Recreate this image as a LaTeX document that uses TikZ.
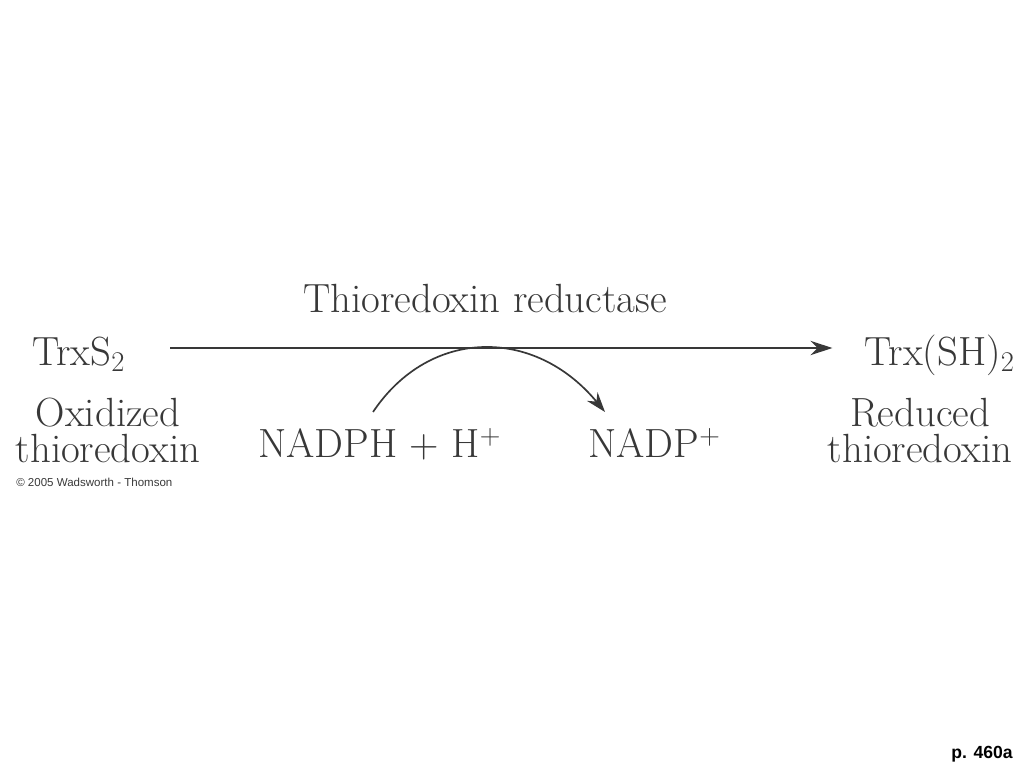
\documentclass[tikz,border=0pt]{standalone}
\usepackage{fontspec}
\usepackage{tikz}
\usetikzlibrary{arrows.meta}
\newfontfamily\credfont{Liberation Sans}
\definecolor{ink}{HTML}{383838}
\tikzset{lbl/.style={font=\fontsize{29}{25}\selectfont, text=ink, inner sep=0pt},
 credit/.style={font=\credfont\fontsize{8.2}{10}\selectfont, text=ink, inner sep=0pt},
 pagelbl/.style={font=\credfont\bfseries\fontsize{12.5}{14}\selectfont, inner sep=0pt},
 rxn/.style={draw=ink, line width=1.3pt, -{Stealth[length=0.55cm, width=0.36cm]}},
 cofactor/.style={draw=ink, line width=1.2pt, -{Stealth[length=0.5cm, width=0.34cm]}},
 }

\begin{document}
\begin{tikzpicture}[x=0.025cm, y=-0.025cm]
        \useasboundingbox (0,0) rectangle (1024,768);
        \node[lbl, anchor=base] (enzyme) at (485,312) {Thioredoxin reductase};
        \node[lbl, anchor=base west] (trxs) at (32,365) {TrxS\textsubscript{2}};
        \node[lbl, anchor=base east] (trxsh) at (1015,365) {Trx(SH)\textsubscript{2}};
        \node[lbl, anchor=base, align=center] (oxid) at (108,462) {Oxidized\\thioredoxin};
        \node[lbl, anchor=base, align=center] (red) at (920,462) {Reduced\\thioredoxin};
        \node[lbl, anchor=base west] (nadph) at (258,457) {NADPH + H\textsuperscript{+}};
        \node[lbl, anchor=base west] (nadp) at (588,457) {NADP\textsuperscript{+}};
        \node[credit, anchor=base west] (copy) at (16,486) {© 2005 Wadsworth - Thomson};
        \node[pagelbl, anchor=base east] (pg) at (1013,758) {p. 460a};
        \draw[rxn] ([shift={(45,-17)}]trxs.base east) -- ([shift={(-32,-17)}]trxsh.base west);
        \draw[cofactor] ([shift={(115,-45)}]nadph.base west) .. controls +(57,-85) and +(-70,-85) .. ([shift={(17,-45)}]nadp.base west);
    \end{tikzpicture}
\end{document}
